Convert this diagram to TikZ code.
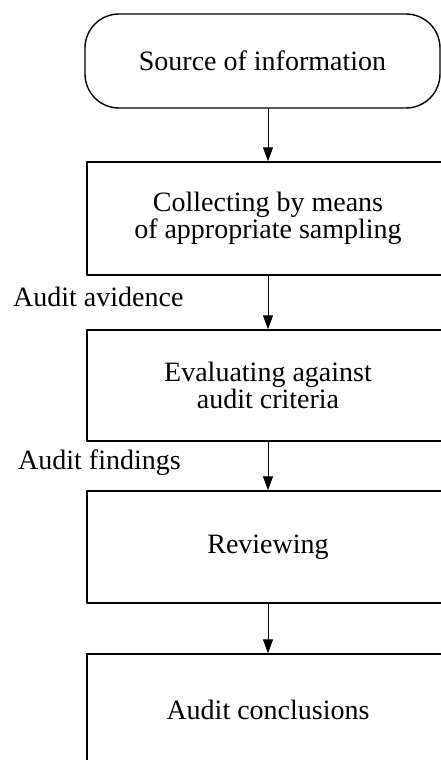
\documentclass[tikz,border=0pt]{standalone}
\usepackage{fontspec}
\setmainfont{Liberation Serif}
\usepackage{tikz}
\usetikzlibrary{arrows.meta}
\usetikzlibrary{positioning}

\tikzset{
  stagebox/.style={draw, line width=1.4pt, minimum width=362pt, minimum height=112pt,
    inner sep=0pt, align=center, font=\fontsize{28}{27.5}\selectfont},
  startbox/.style={stagebox, rounded corners=34pt, minimum width=355pt, minimum height=94pt},
  flowlabel/.style={inner sep=0pt, anchor=west, font=\fontsize{28}{27.5}\selectfont},
  flowarrow/.style={line width=1pt, -{Triangle[length=14pt, width=10pt]}}
}

\begin{document}
\begin{tikzpicture}[line cap=round,line join=round, x=1pt,y=-1pt]
\useasboundingbox (0,0) rectangle (441,760);
\clip (0,0) rectangle (441,760);
\node [startbox] (source) at (262.5,61) {Source of information};
\node [stagebox, minimum height=113pt] (collect) at (268,218.5) {Collecting by means\\of appropriate sampling};
\node [stagebox, minimum height=111pt] (evaluate) at (268,385.5) {Evaluating against\\audit criteria};
\node [stagebox] (review) at (268,547) {Reviewing};
\node [stagebox] (conclude) at (268,710) {Audit conclusions};
\node [flowlabel] (evidence) at (13,297) {Audit avidence};
\node [flowlabel] (findings) at (18,463) {Audit findings};
\draw [flowarrow] (collect.north |- source.south) -- (collect.north);
\draw [flowarrow] (collect.south) -- (evaluate.north);
\draw [flowarrow] (evaluate.south) -- (review.north);
\draw [flowarrow] (review.south) -- (conclude.north);
\end{tikzpicture}
\end{document}
